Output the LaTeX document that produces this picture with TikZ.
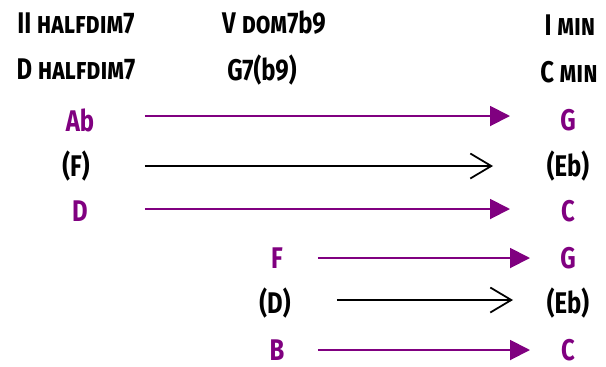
\documentclass[tikz,border=0pt]{standalone}
\usepackage{fontspec}
\setmainfont{Fira Sans}
\newfontfamily\jazzfont{Fira Sans}[FakeStretch=0.8]
\usetikzlibrary{arrows.meta}
\definecolor{tonepurple}{RGB}{128,0,128}

\begin{document}
\begin{tikzpicture}[
  x=0.02cm, y=-0.02cm,
  chord/.style={font=\jazzfont\bfseries\fontsize{17}{18}\selectfont, text=black},
  tone/.style={font=\jazzfont\bfseries\fontsize{17}{18}\selectfont, text=tonepurple},
  alt/.style={font=\jazzfont\bfseries\fontsize{17}{18}\selectfont, text=black},
  lead/.style={draw=tonepurple, line width=1.1pt, -{Triangle[length=0.4cm, width=0.4cm]}},
  pass/.style={draw=black, line width=1pt, -{Straight Barb[length=0.42cm, width=0.5cm]}}
]
\useasboundingbox (0,0) rectangle (606,366);

% Chord headings
\node[chord] (h2) at (76,23) {II \textsc{halfdim}7};
\node[chord] (h5) at (274,23) {V \textsc{dom}7b9};
\node[chord] (h1) at (570,25) {I \textsc{min}};
\node[chord] (c2) at (76,69) {D \textsc{halfdim}7};
\node[chord] (c5) at (262,70) {G7(b9)};
\node[chord] (c1) at (569,72) {C \textsc{min}};

% II - V - I voices
\node[tone] (ab) at (80,120) {Ab};
\node[tone] (g1) at (568,120) {G};
\node[alt] (f1) at (76,166) {(F)};
\node[alt] (eb1) at (568,166) {(Eb)};
\node[tone] (d1) at (80,211) {D};
\node[tone] (c3) at (568,211) {C};

\draw[lead, shorten <=1.3cm, shorten >=1.16cm] ([yshift=0.08cm]ab.center) -- ([yshift=0.08cm]g1.center);
\draw[pass, shorten <=1.38cm, shorten >=1.5cm] (f1.center) -- (eb1.center);
\draw[lead, shorten <=1.3cm, shorten >=1.16cm] ([yshift=0.04cm]d1.center) -- ([yshift=0.04cm]c3.center);

% V - I voices
\node[tone] (f2) at (277,258) {F};
\node[alt] (d2) at (275,303) {(D)};
\node[tone] (b) at (277,350) {B};
\node[tone] (g2) at (568,258) {G};
\node[alt] (eb2) at (568,303) {(Eb)};
\node[tone] (c4) at (568,350) {C};

\draw[lead, shorten <=0.82cm, shorten >=0.76cm] (f2.center) -- (g2.center);
\draw[pass, shorten <=1.24cm, shorten >=1.1cm] ([yshift=0.06cm]d2.center) -- ([yshift=0.06cm]eb2.center);
\draw[lead, shorten <=0.82cm, shorten >=0.76cm] (b.center) -- (c4.center);
\end{tikzpicture}
\end{document}
